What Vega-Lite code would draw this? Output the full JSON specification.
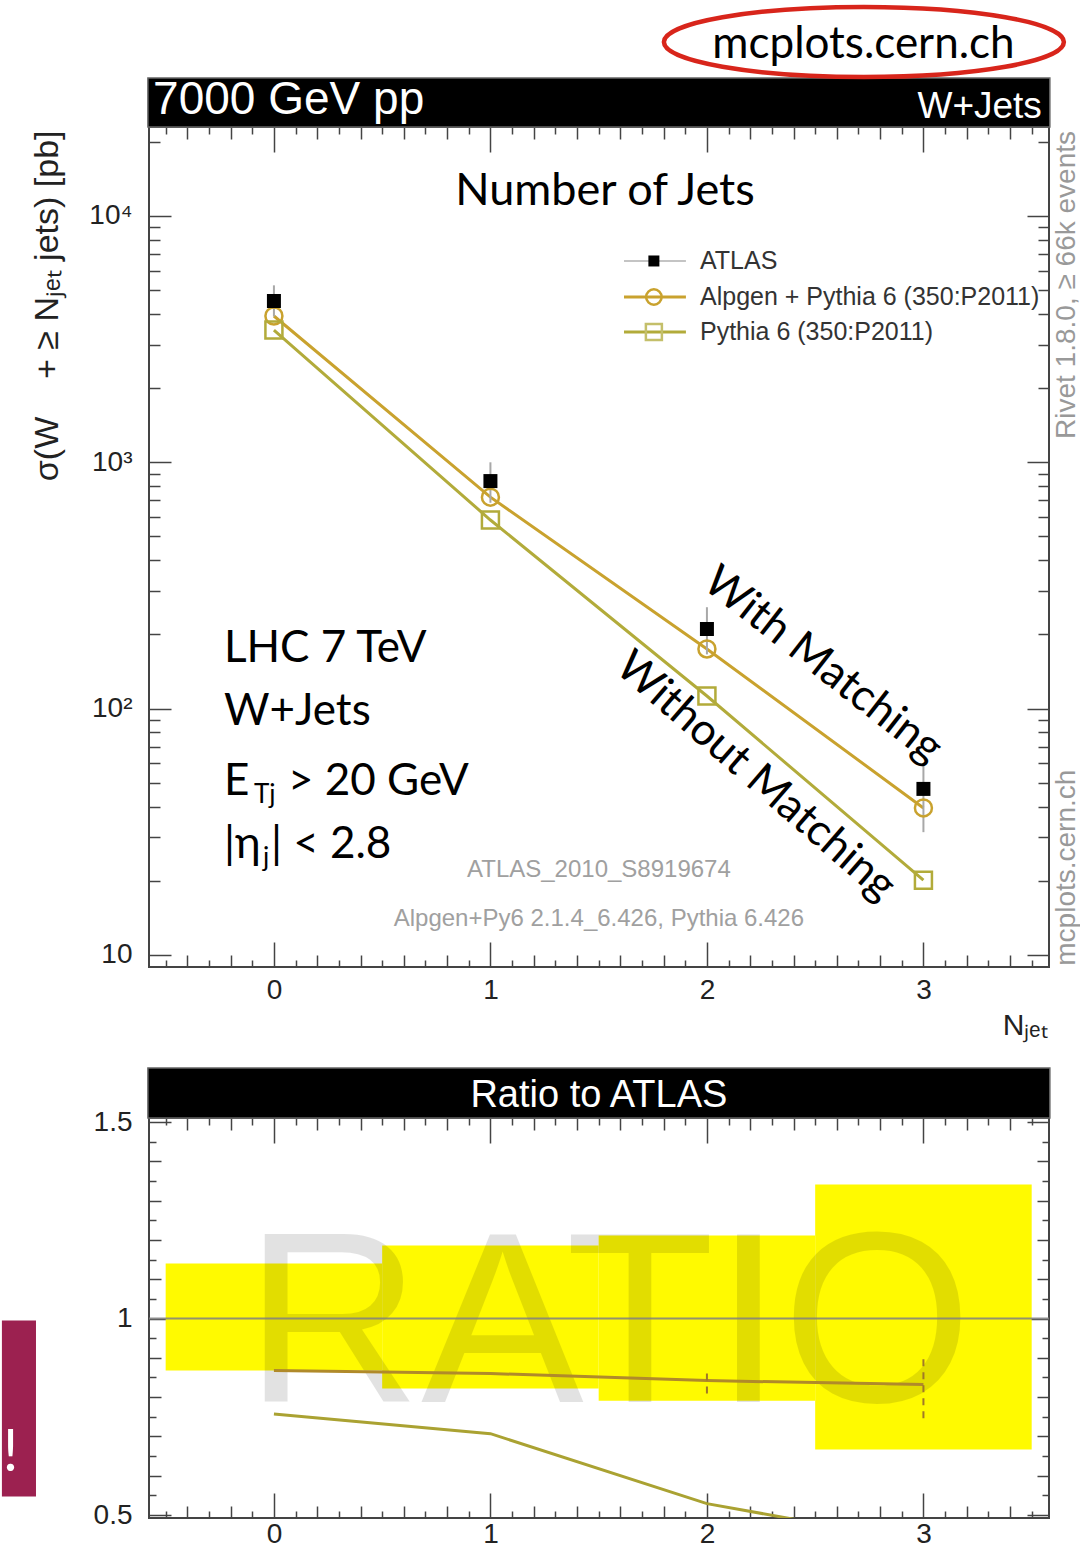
{
  "$schema": "https://vega.github.io/schema/vega-lite/v6.json",
  "padding": {"left": 0, "top": -4, "right": 0, "bottom": 0},
  "background": "white",
  "bounds": "flush",
  "spacing": 151,
  "resolve": {"scale": {"x": "independent", "y": "independent", "color": "independent", "shape": "independent"}},
  "config": {
    "view": {"stroke": "#444", "strokeWidth": 2},
    "axis": {"labelFont": "Liberation Sans", "labelFontSize": 28, "labelColor": "#222", "titleFont": "Liberation Sans", "titleFontWeight": "normal", "titleColor": "#222", "domain": false, "grid": false, "tickColor": "#444", "tickWidth": 1.5, "labelOverlap": false, "labelFlush": false, "labelBound": false}
  },
  "datasets": {
    "mc": [
      {"series": "Alpgen", "n": 0, "xs": 3927}, {"series": "Alpgen", "n": 1, "xs": 722}, {"series": "Alpgen", "n": 2, "xs": 174.6}, {"series": "Alpgen", "n": 3, "xs": 39.5},
      {"series": "Pythia", "n": 0, "xs": 3443}, {"series": "Pythia", "n": 1, "xs": 583}, {"series": "Pythia", "n": 2, "xs": 112.5}, {"series": "Pythia", "n": 3, "xs": 20.1}
    ],
    "atlas": [
      {"n": 0, "xs": 4518, "lo": 3910, "hi": 5230}, {"n": 1, "xs": 839, "lo": 685, "hi": 1000}, {"n": 2, "xs": 210.5, "lo": 166, "hi": 258}, {"n": 3, "xs": 47.2, "lo": 31.5, "hi": 60}
    ],
    "ratio": [
      {"series": "Alpgen", "n": 0, "r": 0.868}, {"series": "Alpgen", "n": 1, "r": 0.86}, {"series": "Alpgen", "n": 2, "r": 0.842}, {"series": "Alpgen", "n": 3, "r": 0.832},
      {"series": "Pythia", "n": 0, "r": 0.757}, {"series": "Pythia", "n": 1, "r": 0.707}, {"series": "Pythia", "n": 2, "r": 0.529}, {"series": "Pythia", "n": 3, "r": 0.43}
    ],
    "band": [
      {"x1": -0.5, "x2": 0.5, "lo": 0.868, "hi": 1.14}, {"x1": 0.5, "x2": 1.5, "lo": 0.822, "hi": 1.186}, {"x1": 1.5, "x2": 2.5, "lo": 0.791, "hi": 1.211}, {"x1": 2.5, "x2": 3.5, "lo": 0.667, "hi": 1.341}
    ],
    "mcerr": [{"n": 2, "lo": 0.809, "hi": 0.873}, {"n": 3, "lo": 0.746, "hi": 0.911}]
  },
  "vconcat": [
    {
      "width": 900, "height": 840,
      "data": {"values": [{}]},
      "resolve": {"axis": {"x": "independent", "y": "independent"}},
      "layer": [
        {"data": {"name": "mc"}, "mark": {"type": "line", "strokeWidth": 3},
         "encoding": {
           "x": {"field": "n", "type": "quantitative", "scale": {"domain": [-0.577, 3.58], "nice": false, "zero": false},
                 "axis": {"orient": "bottom", "values": [-0.5,-0.4,-0.3,-0.2,-0.1,0,0.1,0.2,0.3,0.4,0.5,0.6,0.7,0.8,0.9,1,1.1,1.2,1.3,1.4,1.5,1.6,1.7,1.8,1.9,2,2.1,2.2,2.3,2.4,2.5,2.6,2.7,2.8,2.9,3,3.1,3.2,3.3,3.4,3.5],
                          "labelExpr": "abs(datum.value - round(datum.value)) < 0.001 ? format(round(datum.value), 'd') : ''",
                          "tickSize": {"expr": "abs(datum.value - round(datum.value)) < 0.001 ? -25 : abs(datum.value * 5 - round(datum.value * 5)) < 0.001 ? -12 : -7"},
                          "labelPadding": 34,
                          "title": "Nⱼₑₜ", "titleFontSize": 30, "titleAlign": "right", "titleBaseline": "alphabetic", "titleX": 898, "titleY": 67, "titleAnchor": "end"}},
           "y": {"field": "xs", "type": "quantitative", "scale": {"type": "log", "domain": [8.93, 22980], "nice": false},
                 "axis": {"orient": "left", "values": [10,20,30,40,50,60,70,80,90,100,200,300,400,500,600,700,800,900,1000,2000,3000,4000,5000,6000,7000,8000,9000,10000,20000],
                          "labelExpr": "datum.value == 10000 ? '10⁴' : datum.value == 1000 ? '10³' : datum.value == 100 ? '10²' : datum.value == 10 ? '10' : ''",
                          "tickSize": {"expr": "abs(log(datum.value) / LN10 - round(log(datum.value) / LN10)) < 0.001 ? -22 : -11"},
                          "labelPadding": 39,
                          "title": "σ(W\u00a0\u00a0\u00a0\u00a0+\u00a0≥\u00a0Nⱼₑₜ jets) [pb]", "titleFontSize": 34, "titleAngle": 270, "titleAlign": "right", "titleBaseline": "middle", "titleX": -102, "titleY": 3}},
           "color": {"field": "series", "type": "nominal", "scale": {"domain": ["Alpgen", "Pythia"], "range": ["#c9a22e", "#b2ab3a"]}, "legend": null}
         }},
        {"data": {"name": "atlas"}, "mark": {"type": "rule", "color": "#a8a8a8", "strokeWidth": 2},
         "encoding": {
           "x": {"field": "n", "type": "quantitative",
                 "axis": {"orient": "top", "labels": false, "title": null, "values": [-0.5,-0.4,-0.3,-0.2,-0.1,0,0.1,0.2,0.3,0.4,0.5,0.6,0.7,0.8,0.9,1,1.1,1.2,1.3,1.4,1.5,1.6,1.7,1.8,1.9,2,2.1,2.2,2.3,2.4,2.5,2.6,2.7,2.8,2.9,3,3.1,3.2,3.3,3.4,3.5],
                          "tickSize": {"expr": "abs(datum.value - round(datum.value)) < 0.001 ? -25 : abs(datum.value * 5 - round(datum.value * 5)) < 0.001 ? -12 : -7"}}},
           "y": {"field": "lo", "type": "quantitative",
                 "axis": {"orient": "right", "labels": false, "title": null, "values": [10,20,30,40,50,60,70,80,90,100,200,300,400,500,600,700,800,900,1000,2000,3000,4000,5000,6000,7000,8000,9000,10000,20000],
                          "tickSize": {"expr": "abs(log(datum.value) / LN10 - round(log(datum.value) / LN10)) < 0.001 ? -22 : -11"}}},
           "y2": {"field": "hi"}
         }},
        {"data": {"name": "mc"}, "mark": {"type": "point", "filled": false, "strokeWidth": 2.5, "size": 289, "opacity": 1},
         "encoding": {
           "x": {"field": "n", "type": "quantitative", "axis": null},
           "y": {"field": "xs", "type": "quantitative", "axis": null},
           "shape": {"field": "series", "type": "nominal", "scale": {"domain": ["Alpgen", "Pythia"], "range": ["circle", "square"]}, "legend": null},
           "color": {"field": "series", "type": "nominal", "legend": null}
         }},
        {"data": {"name": "atlas"}, "mark": {"type": "point", "shape": "square", "filled": true, "color": "black", "size": 196, "opacity": 1},
         "encoding": {"x": {"field": "n", "type": "quantitative", "axis": null}, "y": {"field": "xs", "type": "quantitative", "axis": null}}},

        {"mark": {"type": "rect", "color": "black", "stroke": "#666", "strokeWidth": 1.5},
         "encoding": {"x": {"datum": -0.582, "type": "quantitative", "axis": null}, "x2": {"datum": 3.584}, "y": {"datum": 22980, "type": "quantitative", "axis": null}, "y2": {"datum": 36330}}},
        {"mark": {"type": "text", "text": "7000 GeV pp", "font": "Liberation Sans", "fontSize": 46, "color": "white", "align": "left", "baseline": "alphabetic"},
         "encoding": {"x": {"datum": -0.558, "type": "quantitative", "axis": null}, "y": {"datum": 25940, "type": "quantitative", "axis": null}}},
        {"mark": {"type": "text", "text": "W+Jets", "font": "Liberation Sans", "fontSize": 37, "color": "white", "align": "right", "baseline": "alphabetic"},
         "encoding": {"x": {"datum": 3.547, "type": "quantitative", "axis": null}, "y": {"datum": 25010, "type": "quantitative", "axis": null}}},
        {"mark": {"type": "point", "shape": "M-1,0C-1,-0.0967 -0.5523,-0.175 0,-0.175C0.5523,-0.175 1,-0.0967 1,0C1,0.0967 0.5523,0.175 0,0.175C-0.5523,0.175 -1,0.0967 -1,0Z", "size": 160000, "filled": false, "stroke": "#d8251b", "strokeWidth": 4.5, "opacity": 1},
         "encoding": {"x": {"datum": 2.725, "type": "quantitative", "axis": null}, "y": {"datum": 50870, "type": "quantitative", "axis": null}}},
        {"mark": {"type": "text", "text": "mcplots.cern.ch", "font": "Lato", "fontSize": 44, "color": "black", "align": "center", "baseline": "alphabetic"},
         "encoding": {"x": {"datum": 2.723, "type": "quantitative", "axis": null}, "y": {"datum": 43800, "type": "quantitative", "axis": null}}},
        {"mark": {"type": "text", "text": "Number of Jets", "font": "Lato", "fontSize": 45, "color": "black", "align": "center", "baseline": "alphabetic"},
         "encoding": {"x": {"datum": 1.529, "type": "quantitative", "axis": null}, "y": {"datum": 11084, "type": "quantitative", "axis": null}}},

        {"mark": {"type": "rule", "color": "#b0b0b0", "strokeWidth": 1.5},
         "encoding": {"x": {"datum": 1.617, "type": "quantitative", "axis": null}, "x2": {"datum": 1.903}, "y": {"datum": 6567, "type": "quantitative", "axis": null}}},
        {"mark": {"type": "rule", "color": "#c9a22e", "strokeWidth": 3},
         "encoding": {"x": {"datum": 1.617, "type": "quantitative", "axis": null}, "x2": {"datum": 1.903}, "y": {"datum": 4690, "type": "quantitative", "axis": null}}},
        {"mark": {"type": "rule", "color": "#b2ab3a", "strokeWidth": 3},
         "encoding": {"x": {"datum": 1.617, "type": "quantitative", "axis": null}, "x2": {"datum": 1.903}, "y": {"datum": 3381, "type": "quantitative", "axis": null}}},
        {"mark": {"type": "point", "shape": "square", "filled": true, "color": "black", "size": 121, "opacity": 1},
         "encoding": {"x": {"datum": 1.755, "type": "quantitative", "axis": null}, "y": {"datum": 6567, "type": "quantitative", "axis": null}}},
        {"mark": {"type": "point", "shape": "circle", "filled": false, "color": "#c9a22e", "strokeWidth": 2.5, "size": 240, "opacity": 1},
         "encoding": {"x": {"datum": 1.755, "type": "quantitative", "axis": null}, "y": {"datum": 4690, "type": "quantitative", "axis": null}}},
        {"mark": {"type": "point", "shape": "square", "filled": false, "color": "#c4bf6a", "strokeWidth": 2.5, "size": 256, "opacity": 1},
         "encoding": {"x": {"datum": 1.755, "type": "quantitative", "axis": null}, "y": {"datum": 3381, "type": "quantitative", "axis": null}}},
        {"mark": {"type": "text", "text": "ATLAS", "font": "Liberation Sans", "fontSize": 25, "color": "#333", "align": "left", "baseline": "middle"},
         "encoding": {"x": {"datum": 1.968, "type": "quantitative", "axis": null}, "y": {"datum": 6567, "type": "quantitative", "axis": null}}},
        {"mark": {"type": "text", "text": "Alpgen + Pythia 6 (350:P2011)", "font": "Liberation Sans", "fontSize": 25, "color": "#333", "align": "left", "baseline": "middle"},
         "encoding": {"x": {"datum": 1.968, "type": "quantitative", "axis": null}, "y": {"datum": 4690, "type": "quantitative", "axis": null}}},
        {"mark": {"type": "text", "text": "Pythia 6 (350:P2011)", "font": "Liberation Sans", "fontSize": 25, "color": "#333", "align": "left", "baseline": "middle"},
         "encoding": {"x": {"datum": 1.968, "type": "quantitative", "axis": null}, "y": {"datum": 3381, "type": "quantitative", "axis": null}}},

        {"mark": {"type": "text", "text": "Rivet 1.8.0, ≥ 66k events", "font": "Liberation Sans", "fontSize": 28, "color": "#999", "align": "center", "baseline": "middle", "angle": 270},
         "encoding": {"x": {"datum": 3.663, "type": "quantitative", "axis": null}, "y": {"datum": 5248, "type": "quantitative", "axis": null}}},
        {"mark": {"type": "text", "text": "mcplots.cern.ch", "font": "Liberation Sans", "fontSize": 28, "color": "#999", "align": "center", "baseline": "middle", "angle": 270},
         "encoding": {"x": {"datum": 3.663, "type": "quantitative", "axis": null}, "y": {"datum": 22.6, "type": "quantitative", "axis": null}}},
        {"mark": {"type": "text", "text": "ATLAS_2010_S8919674", "font": "Liberation Sans", "fontSize": 24, "color": "#a0a0a0", "align": "center", "baseline": "middle"},
         "encoding": {"x": {"datum": 1.501, "type": "quantitative", "axis": null}, "y": {"datum": 22.1, "type": "quantitative", "axis": null}}},
        {"mark": {"type": "text", "text": "Alpgen+Py6 2.1.4_6.426, Pythia 6.426", "font": "Liberation Sans", "fontSize": 24, "color": "#a0a0a0", "align": "center", "baseline": "middle"},
         "encoding": {"x": {"datum": 1.501, "type": "quantitative", "axis": null}, "y": {"datum": 13.99, "type": "quantitative", "axis": null}}},

        {"mark": {"type": "text", "text": "LHC 7 TeV", "font": "Lato", "fontSize": 44, "color": "black", "align": "left", "baseline": "alphabetic"},
         "encoding": {"x": {"datum": -0.231, "type": "quantitative", "axis": null}, "y": {"datum": 154.6, "type": "quantitative", "axis": null}}},
        {"mark": {"type": "text", "text": "W+Jets", "font": "Lato", "fontSize": 44, "color": "black", "align": "left", "baseline": "alphabetic"},
         "encoding": {"x": {"datum": -0.231, "type": "quantitative", "axis": null}, "y": {"datum": 85.8, "type": "quantitative", "axis": null}}},
        {"mark": {"type": "text", "text": "E", "font": "Lato", "fontSize": 44, "color": "black", "align": "left", "baseline": "alphabetic"},
         "encoding": {"x": {"datum": -0.231, "type": "quantitative", "axis": null}, "y": {"datum": 44.6, "type": "quantitative", "axis": null}}},
        {"mark": {"type": "text", "text": "Tj", "font": "Lato", "fontSize": 26, "color": "black", "align": "left", "baseline": "alphabetic"},
         "encoding": {"x": {"datum": -0.092, "type": "quantitative", "axis": null}, "y": {"datum": 41.4, "type": "quantitative", "axis": null}}},
        {"mark": {"type": "text", "text": "> 20 GeV", "font": "Lato", "fontSize": 44, "color": "black", "align": "left", "baseline": "alphabetic"},
         "encoding": {"x": {"datum": 0.065, "type": "quantitative", "axis": null}, "y": {"datum": 44.6, "type": "quantitative", "axis": null}}},
        {"mark": {"type": "text", "text": "|η", "font": "Lato", "fontSize": 44, "color": "black", "align": "left", "baseline": "alphabetic"},
         "encoding": {"x": {"datum": -0.231, "type": "quantitative", "axis": null}, "y": {"datum": 24.7, "type": "quantitative", "axis": null}}},
        {"mark": {"type": "text", "text": "j", "font": "Lato", "fontSize": 26, "color": "black", "align": "left", "baseline": "alphabetic"},
         "encoding": {"x": {"datum": -0.051, "type": "quantitative", "axis": null}, "y": {"datum": 22.96, "type": "quantitative", "axis": null}}},
        {"mark": {"type": "text", "text": "| < 2.8", "font": "Lato", "fontSize": 44, "color": "black", "align": "left", "baseline": "alphabetic"},
         "encoding": {"x": {"datum": -0.014, "type": "quantitative", "axis": null}, "y": {"datum": 24.7, "type": "quantitative", "axis": null}}},
        {"mark": {"type": "text", "text": "With Matching", "font": "Lato", "fontSize": 44, "color": "black", "align": "center", "baseline": "middle", "angle": 38},
         "encoding": {"x": {"datum": 2.535, "type": "quantitative", "axis": null}, "y": {"datum": 150, "type": "quantitative", "axis": null}}},
        {"mark": {"type": "text", "text": "Without Matching", "font": "Lato", "fontSize": 44, "color": "black", "align": "center", "baseline": "middle", "angle": 41},
         "encoding": {"x": {"datum": 2.225, "type": "quantitative", "axis": null}, "y": {"datum": 53, "type": "quantitative", "axis": null}}}
      ]
    },
    {
      "width": 900, "height": 400,
      "data": {"values": [{}]},
      "resolve": {"axis": {"x": "independent", "y": "independent"}},
      "layer": [
        {"data": {"name": "band"}, "mark": {"type": "rect", "color": "#fffa00"},
         "encoding": {
           "x": {"field": "x1", "type": "quantitative", "scale": {"domain": [-0.577, 3.58], "nice": false, "zero": false},
                 "axis": {"orient": "bottom", "title": null, "values": [-0.5,-0.4,-0.3,-0.2,-0.1,0,0.1,0.2,0.3,0.4,0.5,0.6,0.7,0.8,0.9,1,1.1,1.2,1.3,1.4,1.5,1.6,1.7,1.8,1.9,2,2.1,2.2,2.3,2.4,2.5,2.6,2.7,2.8,2.9,3,3.1,3.2,3.3,3.4,3.5],
                          "labelExpr": "abs(datum.value - round(datum.value)) < 0.001 ? format(round(datum.value), 'd') : ''",
                          "tickSize": {"expr": "abs(datum.value - round(datum.value)) < 0.001 ? -25 : abs(datum.value * 5 - round(datum.value * 5)) < 0.001 ? -12 : -7"},
                          "labelPadding": 27}},
           "x2": {"field": "x2"},
           "y": {"field": "lo", "type": "quantitative", "scale": {"domain": [0.4924, 1.5102], "nice": false, "zero": false},
                 "axis": {"orient": "left", "title": null, "values": [0.5,0.55,0.6,0.65,0.7,0.75,0.8,0.85,0.9,0.95,1,1.05,1.1,1.15,1.2,1.25,1.3,1.35,1.4,1.45,1.5],
                          "labelExpr": "abs(datum.value - 1) < 0.001 ? '1' : abs(datum.value - 0.5) < 0.001 ? '0.5' : abs(datum.value - 1.5) < 0.001 ? '1.5' : ''",
                          "tickSize": {"expr": "abs(datum.value * 2 - round(datum.value * 2)) < 0.001 ? -22 : abs(datum.value * 10 - round(datum.value * 10)) < 0.001 ? -12 : -7"},
                          "labelPadding": 39}},
           "y2": {"field": "hi"}
         }},
        {"mark": {"type": "text", "text": "RATIO", "font": "Liberation Sans", "fontSize": 244, "color": "black", "opacity": 0.11, "align": "center", "baseline": "alphabetic"},
         "encoding": {"x": {"datum": 1.545, "type": "quantitative", "axis": null}, "y": {"datum": 0.7863, "type": "quantitative", "axis": null}}},
        {"mark": {"type": "rule", "color": "#808080", "strokeWidth": 2, "opacity": 0.85},
         "encoding": {"y": {"datum": 1, "type": "quantitative", "axis": null}}},
        {"data": {"name": "ratio"}, "mark": {"type": "line", "strokeWidth": 3, "clip": true},
         "encoding": {
           "x": {"field": "n", "type": "quantitative", "axis": null},
           "y": {"field": "r", "type": "quantitative", "axis": null},
           "color": {"field": "series", "type": "nominal", "scale": {"domain": ["Alpgen", "Pythia"], "range": ["#b08a2a", "#aaa232"]}, "legend": null}
         }},
        {"data": {"name": "mcerr"}, "mark": {"type": "rule", "color": "#a07828", "strokeWidth": 2, "strokeDash": [7, 6]},
         "encoding": {
           "x": {"field": "n", "type": "quantitative",
                 "axis": {"orient": "top", "labels": false, "title": null, "values": [-0.5,-0.4,-0.3,-0.2,-0.1,0,0.1,0.2,0.3,0.4,0.5,0.6,0.7,0.8,0.9,1,1.1,1.2,1.3,1.4,1.5,1.6,1.7,1.8,1.9,2,2.1,2.2,2.3,2.4,2.5,2.6,2.7,2.8,2.9,3,3.1,3.2,3.3,3.4,3.5],
                          "tickSize": {"expr": "abs(datum.value - round(datum.value)) < 0.001 ? -25 : abs(datum.value * 5 - round(datum.value * 5)) < 0.001 ? -12 : -7"}}},
           "y": {"field": "lo", "type": "quantitative",
                 "axis": {"orient": "right", "labels": false, "title": null, "values": [0.5,0.55,0.6,0.65,0.7,0.75,0.8,0.85,0.9,0.95,1,1.05,1.1,1.15,1.2,1.25,1.3,1.35,1.4,1.45,1.5],
                          "tickSize": {"expr": "abs(datum.value * 2 - round(datum.value * 2)) < 0.001 ? -22 : abs(datum.value * 10 - round(datum.value * 10)) < 0.001 ? -12 : -7"}}},
           "y2": {"field": "hi"}
         }},
        {"mark": {"type": "rect", "color": "black", "stroke": "#666", "strokeWidth": 1.5},
         "encoding": {"x": {"datum": -0.582, "type": "quantitative", "axis": null}, "x2": {"datum": 3.584}, "y": {"datum": 1.5102, "type": "quantitative", "axis": null}, "y2": {"datum": 1.6374}}},
        {"mark": {"type": "text", "text": "Ratio to ATLAS", "font": "Liberation Sans", "fontSize": 38, "color": "white", "align": "center", "baseline": "alphabetic"},
         "encoding": {"x": {"datum": 1.501, "type": "quantitative", "axis": null}, "y": {"datum": 1.538, "type": "quantitative", "axis": null}}},
        {"mark": {"type": "rect", "color": "#9c2150"},
         "encoding": {"x": {"datum": -1.2564, "type": "quantitative", "axis": null}, "x2": {"datum": -1.099}, "y": {"datum": 0.547, "type": "quantitative", "axis": null}, "y2": {"datum": 0.9949}}},
        {"mark": {"type": "text", "text": "!", "font": "Lato", "fontSize": 58, "color": "white", "align": "left", "baseline": "alphabetic"},
         "encoding": {"x": {"datum": -1.252, "type": "quantitative", "axis": null}, "y": {"datum": 0.6132, "type": "quantitative", "axis": null}}}
      ]
    }
  ]
}
